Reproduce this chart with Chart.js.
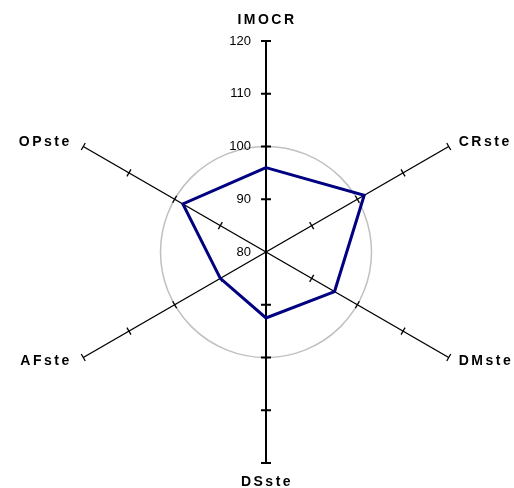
<!DOCTYPE html>
<html>
<head>
<meta charset="utf-8">
<script src="https://cdn.jsdelivr.net/npm/chart.js@4"></script>
<style>
  html, body { margin: 0; padding: 0; background: #fff; }
  #wrap { width: 514px; height: 488px; }
</style>
</head>
<body>
<div id="wrap"><canvas id="radar"></canvas></div>
<script>
var categories = ["IMOCR", "CRste", "DMste", "DSste", "AFste", "OPste"];
var values = [96, 101.5, 95, 92.5, 90, 98.2];
var tickLabels = [80, 90, 100, 110, 120];
var refLevel = 100;

var fontFamily = "'Liberation Sans', Arial, sans-serif";

// tick marks on every axis, tick labels on the top axis, category names at the ends
var axisDecor = {
  id: "axisDecor",
  beforeDatasetsDraw(chart) {
    var ctx = chart.ctx;
    var r = chart.scales.r;
    ctx.save();
    ctx.strokeStyle = "#000";
    categories.forEach((c, i) => {
      var vertical = i % 3 === 0;
      var half = vertical ? 5 : 4;
      ctx.lineWidth = vertical ? 2 : 1.3;
      var a = r.getIndexAngle(i) - Math.PI / 2;
      var nx = -Math.sin(a), ny = Math.cos(a);
      tickLabels.slice(1).forEach((v) => {
        var p = r.getPointPositionForValue(i, v);
        ctx.beginPath();
        ctx.moveTo(p.x - nx * half, p.y - ny * half);
        ctx.lineTo(p.x + nx * half, p.y + ny * half);
        ctx.stroke();
      });
    });

    ctx.fillStyle = "#000";
    ctx.font = "13px " + fontFamily;
    ctx.textAlign = "right";
    ctx.textBaseline = "middle";
    tickLabels.forEach((v) => {
      var p = r.getPointPositionForValue(0, v);
      ctx.fillText(String(v), p.x - 15, p.y);
    });

    ctx.font = "bold 14px " + fontFamily;
    ctx.letterSpacing = "2.5px";
    categories.forEach((c, i) => {
      var p = r.getPointPositionForValue(i, r.max);
      var a = r.getIndexAngle(i) - Math.PI / 2;
      var cx = Math.cos(a), sy = Math.sin(a);
      if (Math.abs(cx) < 0.1) {
        ctx.textAlign = "center";
        ctx.fillText(c, p.x + 1, p.y + (sy > 0 ? 19 : -21));
      } else {
        ctx.textAlign = cx > 0 ? "left" : "right";
        ctx.fillText(c, p.x + (cx > 0 ? 10 : -11.5), p.y + (sy < 0 ? -4 : 3.5));
      }
    });
    ctx.restore();
  },
};

new Chart(document.getElementById("radar"), {
  type: "radar",
  data: {
    labels: categories,
    datasets: [
      {
        data: values,
        borderColor: "#000080",
        borderWidth: 3,
        borderJoinStyle: "miter",
        fill: false,
        pointRadius: 0,
        pointHoverRadius: 0,
      },
    ],
  },
  options: {
    responsive: true,
    maintainAspectRatio: false,
    animation: false,
    layout: {
      padding: { left: 55, right: 37, top: 41, bottom: 25 },
    },
    plugins: {
      legend: { display: false },
      tooltip: { enabled: false },
    },
    scales: {
      r: {
        min: 80,
        max: 120,
        ticks: { display: false, stepSize: 10 },
        pointLabels: { display: false },
        grid: {
          circular: true,
          lineWidth: 1.5,
          color: (ctx) =>
            ctx.tick && ctx.tick.value === refLevel ? "#c0c0c0" : "rgba(0,0,0,0)",
        },
        angleLines: {
          color: "#000",
          lineWidth: (ctx) => (ctx.index % 3 === 0 ? 2 : 1.4),
        },
      },
    },
  },
  plugins: [axisDecor],
});
</script>
</body>
</html>
